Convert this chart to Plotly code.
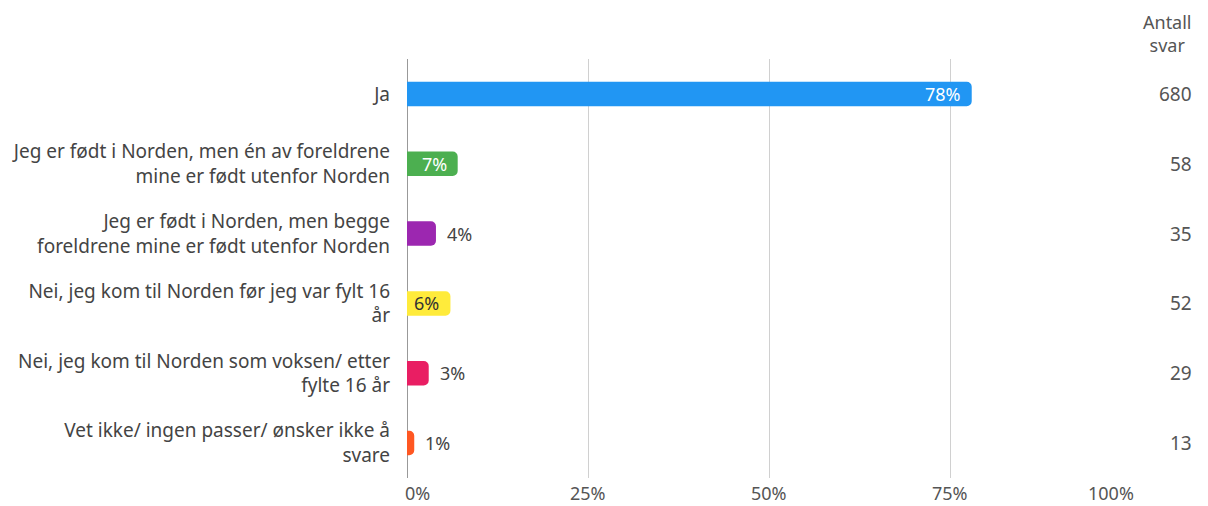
import plotly.graph_objects as go

categories = [
    "Ja",
    "Jeg er født i Norden, men én av foreldrene<br>mine er født utenfor Norden",
    "Jeg er født i Norden, men begge<br>foreldrene mine er født utenfor Norden",
    "Nei, jeg kom til Norden før jeg var fylt 16<br>år",
    "Nei, jeg kom til Norden som voksen/ etter<br>fylte 16 år",
    "Vet ikke/ ingen passer/ ønsker ikke å<br>svare",
]
percent = [78, 7, 4, 6, 3, 1]
counts = [680, 58, 35, 52, 29, 13]
bar_colors = ["#2196F3", "#4CAF50", "#9C27B0", "#FFEB3B", "#E91E63", "#FF5722"]
label_inside = [True, True, False, True, False, False]
label_colors = ["#ffffff", "#ffffff", "#444444", "#333333", "#444444", "#444444"]
x_ticks = [0, 25, 50, 75, 100]
x_ticklabels = ["0%", "25%", "50%", "75%", "100%"]

FONT = "Noto Sans, Open Sans, Arial, sans-serif"

fig = go.Figure()

fig.add_trace(go.Bar(
    y=categories,
    x=percent,
    orientation="h",
    marker=dict(color=bar_colors, cornerradius=5, line=dict(width=0)),
    textposition="none",
    showlegend=False,
    hoverinfo="skip",
))

# percent labels, inside the bar end or just after it
for cat, p, inside, col in zip(categories, percent, label_inside, label_colors):
    fig.add_annotation(
        x=p, xref="x", y=cat, yref="y",
        text=f"{p}%", showarrow=False,
        xanchor="right" if inside else "left",
        xshift=-9 if inside else 9,
        font=dict(size=18, color=col, family=FONT),
    )

# x tick labels kept inside the plot width at both ends
for i, (t, lab) in enumerate(zip(x_ticks, x_ticklabels)):
    if i == 0:
        anchor, shift = "left", -4
    elif i == len(x_ticks) - 1:
        anchor, shift = "right", 5
    else:
        anchor, shift = "center", 0
    fig.add_annotation(
        x=t, xref="x", y=0, yref="paper",
        text=lab, showarrow=False,
        xanchor=anchor, xshift=shift, yanchor="middle", yshift=-15,
        font=dict(size=18, color="#555555", family=FONT),
    )

# count column to the right of the plot
for cat, n in zip(categories, counts):
    fig.add_annotation(
        x=1.087, xref="paper", y=cat, yref="y",
        text=str(n), showarrow=False,
        font=dict(size=19, color="#555555", family=FONT),
    )

fig.add_annotation(
    x=1.087, xref="paper", y=1.0, yref="paper", yanchor="bottom",
    text="Antall<br>svar", showarrow=False, align="center",
    font=dict(size=18, color="#555555", family=FONT),
)

# page body has an 8px margin, so the figure is a bit smaller than the window
fig.update_layout(
    width=1200,
    height=498,
    paper_bgcolor="white",
    plot_bgcolor="white",
    margin=dict(l=399, r=77, t=51, b=28),
    bargap=0.65,
    font=dict(family=FONT, color="#444444"),
    xaxis=dict(
        range=[0, 100],
        tickvals=x_ticks,
        showticklabels=False,
        showgrid=True,
        gridcolor="#d0d0d0",
        gridwidth=1,
        zeroline=True,
        zerolinecolor="#999999",
        zerolinewidth=1,
        automargin=False,
        fixedrange=True,
    ),
    yaxis=dict(
        autorange="reversed",
        showgrid=False,
        tickfont=dict(size=19, color="#444444"),
        ticklabelstandoff=16,
        automargin=False,
        fixedrange=True,
    ),
)

fig.write_html("out.html")
